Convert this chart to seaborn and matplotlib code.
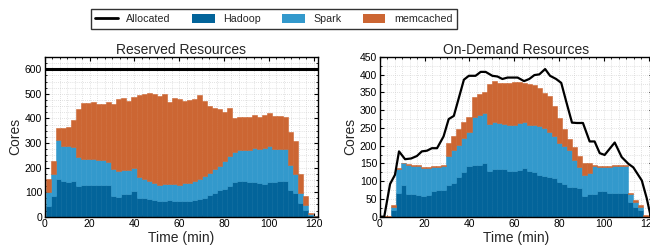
import numpy as np
import pandas as pd
import matplotlib
matplotlib.use("Agg")
import matplotlib.pyplot as plt
from matplotlib.ticker import MultipleLocator, AutoMinorLocator
from matplotlib.lines import Line2D
from matplotlib.patches import Patch
import seaborn as sns

# ---------------- data ----------------
n_bins = 54
bin_width = 2.25          # minutes per bar
bin_start = 0.4           # first bar's left edge (min)

layers = ["Hadoop", "Spark", "memcached"]

# Reserved resources (cores per layer)
res_hadoop = [45, 86, 155, 147, 143, 146, 125, 127, 127, 127,
              127, 127, 127, 86, 82, 93, 93, 105, 75, 78,
              71, 68, 65, 65, 68, 65, 64, 64, 64, 68,
              72, 75, 89, 98, 109, 112, 125, 143, 145, 146,
              143, 142, 136, 134, 140, 140, 146, 146, 109, 98,
              57, 27, 7, 1]
res_spark = [57, 88, 159, 142, 146, 138, 118, 109, 107, 107,
             105, 102, 94, 108, 105, 98, 95, 95, 85, 76,
             75, 71, 65, 70, 66, 69, 64, 75, 75, 77,
             82, 91, 88, 96, 98, 113, 120, 121, 128, 127,
             130, 138, 139, 144, 146, 137, 129, 129, 102, 75,
             41, 21, 4, 1]
res_memcached = [52, 54, 49, 74, 76, 111, 196, 227, 227, 232,
                 227, 228, 247, 265, 290, 293, 282, 288, 334, 345,
                 356, 360, 361, 364, 334, 350, 352, 333, 335, 335,
                 340, 304, 273, 248, 233, 200, 198, 138, 133, 133,
                 133, 132, 131, 134, 134, 132, 134, 131, 135, 134,
                 75, 37, 3, 2]
res_alloc_t = [0, 122]
res_alloc_v = [600, 600]

# On-demand resources (cores per layer)
od_hadoop = [0, 0, 19, 66, 89, 64, 64, 62, 59, 61,
             71, 75, 75, 89, 94, 111, 125, 143, 145, 147,
             150, 130, 133, 134, 134, 130, 130, 132, 137, 130,
             127, 118, 115, 113, 108, 99, 92, 85, 85, 80,
             58, 64, 64, 71, 71, 68, 66, 66, 66, 40,
             28, 19, 0, 0]
od_spark = [0, 0, 9, 68, 61, 81, 80, 81, 79, 76,
            68, 66, 68, 82, 94, 91, 96, 95, 137, 140,
            142, 132, 135, 131, 128, 129, 129, 132, 131, 129,
            130, 138, 136, 127, 118, 108, 106, 103, 75, 60,
            60, 60, 79, 70, 69, 73, 77, 77, 77, 24,
            14, 9, 0, 0]
od_memcached = [2, 2, 5, 2, 2, 3, 2, 3, 3, 3,
                3, 3, 3, 36, 38, 45, 47, 44, 54, 58,
                59, 112, 115, 111, 114, 117, 120, 115, 109, 116,
                115, 106, 97, 99, 85, 72, 49, 30, 35, 32,
                34, 28, 3, 3, 3, 3, 3, 3, 2, 4,
                5, 5, 5, 2]
od_alloc_t = [0, 1.9, 4.5, 6.7, 8.5, 11.2, 13.9, 16.5, 18.7, 21, 23.2, 25.5,
              28.4, 30.7, 33, 37.5, 39.7, 42.7, 45, 47.2, 50.2, 52.5, 54.7,
              57, 61.5, 64.4, 66.7, 69, 71.2, 73.8, 76, 78.7, 81, 83.2, 85.8,
              88, 90.7, 93.7, 95.9, 98.2, 100.4, 104.9, 108, 111, 113.2, 117,
              119.2, 121]
od_alloc_v = [0, 0, 92, 118, 184, 162, 164, 171, 184, 186, 193, 193,
              226, 275, 284, 386, 397, 397, 408, 408, 397, 395, 388,
              392, 392, 382, 388, 399, 401, 416, 397, 388, 377, 325, 265,
              264, 264, 212, 212, 179, 174, 209, 168, 149, 139, 102,
              52, 0]

colors = {"Hadoop": "#03649a", "Spark": "#3399cc", "memcached": "#cc6633"}

# ---------------- style ----------------
sns.set_style("ticks")
plt.rcParams["font.family"] = ["Liberation Sans", "DejaVu Sans"]
plt.rcParams["axes.linewidth"] = 1.0

centers = bin_start + bin_width * (np.arange(n_bins) + 0.5)
bin_range = (bin_start, bin_start + bin_width * n_bins)


def make_df(h, s, m):
    return pd.DataFrame({
        "time": np.concatenate([centers] * 3),
        "layer": np.repeat(layers, n_bins),
        "cores": np.concatenate([h, s, m]).astype(float),
    })


fig = plt.figure(figsize=(6.5, 2.47), dpi=100)
ax1 = fig.add_axes([0.0692, 0.1227, 0.42, 0.6466])
ax2 = fig.add_axes([0.5846, 0.1227, 0.42, 0.6466])

panels = [
    (ax1, make_df(res_hadoop, res_spark, res_memcached), res_alloc_t, res_alloc_v,
     "Reserved Resources", 650, 100, 4, 2.2),
    (ax2, make_df(od_hadoop, od_spark, od_memcached), od_alloc_t, od_alloc_v,
     "On-Demand Resources", 450, 50, 2, 1.6),
]

for ax, df, at, av, title, ymax, ystep, yminor, lw in panels:
    sns.histplot(data=df, x="time", weights="cores", hue="layer",
                 hue_order=["memcached", "Spark", "Hadoop"],
                 palette=colors, multiple="stack",
                 binwidth=bin_width, binrange=bin_range,
                 alpha=1, linewidth=0.4,
                 legend=False, ax=ax)
    for p in ax.patches:
        p.set_edgecolor(p.get_facecolor())
    sns.lineplot(x=at, y=av, color="black", linewidth=lw, ax=ax, zorder=5)
    ax.set_xlim(0, 122)
    ax.set_ylim(0, ymax)
    ax.xaxis.set_major_locator(MultipleLocator(20))
    ax.xaxis.set_minor_locator(AutoMinorLocator(6))
    ax.yaxis.set_major_locator(MultipleLocator(ystep))
    ax.yaxis.set_minor_locator(AutoMinorLocator(yminor))
    ax.grid(True, which="both", linestyle=(0, (1, 2)), color="#c8c8c8",
            linewidth=0.5)
    ax.set_axisbelow(True)
    ax.tick_params(which="both", direction="in", top=True, right=True,
                   labelsize=7.5, colors="black", pad=2)
    ax.tick_params(which="major", length=3, width=0.8)
    ax.tick_params(which="minor", length=1.5, width=0.6)
    ax.set_title(title, fontsize=10, pad=2)
    ax.set_xlabel("Time (min)", fontsize=10, labelpad=1)
    ax.set_ylabel("Cores", fontsize=10, labelpad=2)
    for sp in ax.spines.values():
        sp.set_color("black")

handles = [Line2D([0], [0], color="black", lw=2)] + \
          [Patch(facecolor=colors[k], edgecolor="none") for k in layers]
labels = ["Allocated"] + layers
leg = fig.legend(handles, labels, loc="center", bbox_to_anchor=(0.4215, 0.924),
                 ncol=4, fontsize=7.7, frameon=True, fancybox=False,
                 edgecolor="black", handlelength=2.1, handleheight=0.9,
                 handletextpad=0.8, columnspacing=2.0, borderpad=0.45)
leg.get_frame().set_linewidth(1.0)

fig.savefig("out.png", dpi=100)
